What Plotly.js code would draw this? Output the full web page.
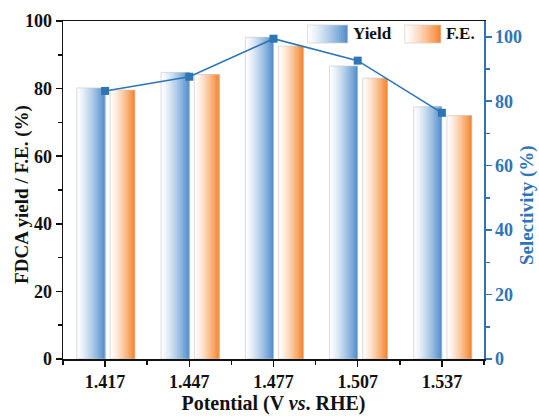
<!DOCTYPE html>
<html>
<head>
<meta charset="utf-8">
<script src="https://cdn.plot.ly/plotly-3.0.1.min.js"></script>
<style>html,body{margin:0;padding:0;background:#fff;}#chart{width:539px;height:416px;}</style>
</head>
<body>
<div id="chart"></div>
<script>
// ---- data ----
const potentials = ['1.417', '1.447', '1.477', '1.507', '1.537'];
const yieldVals = [80.2, 84.8, 95.2, 86.7, 74.6];
const feVals = [79.6, 84.2, 92.6, 83.1, 72.0];
const selectivity = [83.2, 87.6, 99.4, 92.6, 76.4];

// ---- style ----
const BLUE = [78, 140, 203];
const ORANGE = [245, 130, 40];
const LINEBLUE = '#2e75b6';
const FONT = 'Liberation Serif, Times New Roman, serif';
const N = 18;
const idx = potentials.map((_, i) => i);

function mix(c, t) {
  const s = Math.pow(t, 1.3);
  const r = Math.round(255 + (c[0] - 255) * s);
  const g = Math.round(255 + (c[1] - 255) * s);
  const b = Math.round(255 + (c[2] - 255) * s);
  return `rgb(${r},${g},${b})`;
}

const traces = [];
// each slice reaches the right edge of the bar, later (darker) slices cover earlier ones -> no seams
function gradientBars(vals, color, offset, width) {
  const w = width / N;
  for (let k = 0; k < N; k++) {
    traces.push({
      type: 'bar', x: idx, y: vals, width: width - k * w, offset: offset + k * w,
      marker: { color: mix(color, (k + 0.5) / N), line: { width: 0 } },
      hoverinfo: 'skip', showlegend: false
    });
  }
  traces.push({
    type: 'bar', x: idx, y: vals, width: width, offset: offset,
    marker: { color: 'rgba(0,0,0,0)', line: { color: 'rgba(205,205,205,0.9)', width: 0.8 } },
    hoverinfo: 'skip', showlegend: false
  });
}
gradientBars(yieldVals, BLUE, -0.335, 0.335);
gradientBars(feVals, ORANGE, 0.06, 0.295);

traces.push({
  type: 'scatter', mode: 'lines+markers', x: idx, y: selectivity, yaxis: 'y2',
  line: { color: LINEBLUE, width: 1.6 },
  marker: { symbol: 'square', size: 8, color: LINEBLUE },
  showlegend: false
});

// ---- custom legend (gradient swatches) and titles ----
const shapes = [];
const annotations = [];
function px2x(px) { return (px - 63) / 420; }
function px2y(py) { return (359 - py) / 338; }
function legendSwatch(x0, x1, y0, y1, color) {
  const w = (x1 - x0) / N;
  for (let k = 0; k < N; k++) {
    shapes.push({
      type: 'rect', xref: 'paper', yref: 'paper',
      x0: px2x(x0 + k * w), x1: px2x(x1),
      y0: px2y(y1), y1: px2y(y0),
      fillcolor: mix(color, (k + 0.5) / N), line: { width: 0 }, layer: 'above'
    });
  }
  shapes.push({
    type: 'rect', xref: 'paper', yref: 'paper',
    x0: px2x(x0), x1: px2x(x1), y0: px2y(y1), y1: px2y(y0),
    fillcolor: 'rgba(0,0,0,0)', line: { width: 0.8, color: 'rgba(210,210,210,0.9)' }, layer: 'above'
  });
}
legendSwatch(307, 347, 25, 43, BLUE);
legendSwatch(404, 440, 25, 43, ORANGE);
annotations.push({ xref: 'paper', yref: 'paper', x: px2x(350), y: px2y(34), xanchor: 'left', yanchor: 'middle',
  text: '<b>Yield</b>', showarrow: false, font: { family: FONT, size: 17, color: '#111' } });
annotations.push({ xref: 'paper', yref: 'paper', x: px2x(443), y: px2y(34), xanchor: 'left', yanchor: 'middle',
  text: '<b>F.E.</b>', showarrow: false, font: { family: FONT, size: 17, color: '#111' } });
annotations.push({ xref: 'paper', yref: 'paper', x: px2x(22), y: px2y(194), xanchor: 'center', yanchor: 'middle',
  textangle: -90, text: '<b>FDCA yield / F.E. (%)</b>', showarrow: false,
  font: { family: FONT, size: 19, color: '#111' } });
annotations.push({ xref: 'paper', yref: 'paper', x: px2x(526), y: px2y(205), xanchor: 'center', yanchor: 'middle',
  textangle: -90, text: '<b>Selectivity (%)</b>', showarrow: false,
  font: { family: FONT, size: 19, color: LINEBLUE } });

const layout = {
  width: 539, height: 416,
  margin: { l: 63, r: 55, t: 21, b: 57 },
  paper_bgcolor: '#fff', plot_bgcolor: '#fff',
  barmode: 'overlay',
  showlegend: false,
  font: { family: FONT, color: '#111' },
  xaxis: {
    type: 'linear', range: [-0.5, 4.5], tickvals: idx, ticktext: potentials,
    showgrid: false, zeroline: false, showline: true, linecolor: '#111', linewidth: 1.5, mirror: true,
    ticks: 'outside', ticklen: 6, tickwidth: 1.5, tickcolor: '#111',
    minor: { tick0: 0.5, dtick: 1, ticks: 'outside', ticklen: 4, tickwidth: 1.5, tickcolor: '#111', showgrid: false },
    tickfont: { family: FONT, size: 18, color: '#111', weight: 'bold' },
    title: { text: '<b>Potential (V <i>vs</i>. RHE)</b>', font: { family: FONT, size: 20, color: '#111' }, standoff: 3 }
  },
  yaxis: {
    range: [0, 100], dtick: 20, showgrid: false, zeroline: false,
    showline: true, linecolor: '#111', linewidth: 1.5,
    ticks: 'outside', ticklen: 6, tickwidth: 1.5, tickcolor: '#111',
    minor: { dtick: 10, ticks: 'outside', ticklen: 4, tickwidth: 1.5, tickcolor: '#111', showgrid: false },
    tickfont: { family: FONT, size: 18, color: '#111', weight: 'bold' }
  },
  yaxis2: {
    overlaying: 'y', side: 'right', range: [0, 104.9], tickvals: [0, 20, 40, 60, 80, 100],
    showgrid: false, zeroline: false,
    showline: true, linecolor: LINEBLUE, linewidth: 1.5,
    ticks: 'outside', ticklen: 6, tickwidth: 1.5, tickcolor: LINEBLUE,
    minor: { tickvals: [10, 30, 50, 70, 90], ticks: 'outside', ticklen: 4, tickwidth: 1.5, tickcolor: LINEBLUE, showgrid: false },
    tickfont: { family: FONT, size: 18, color: LINEBLUE, weight: 'bold' }
  },
  shapes: shapes,
  annotations: annotations
};

Plotly.newPlot('chart', traces, layout, { displayModeBar: false, staticPlot: true });
</script>
</body>
</html>
